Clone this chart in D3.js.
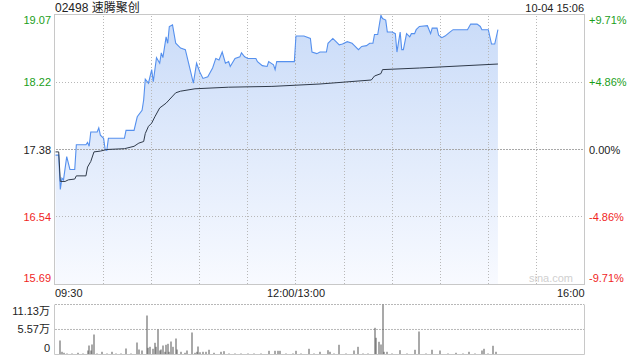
<!DOCTYPE html>
<html>
<head>
<meta charset="utf-8">
<script src="https://cdn.jsdelivr.net/npm/d3@7"></script>
<style>
  html, body { margin: 0; padding: 0; background: #fff; }
  svg { display: block; font-family: "Liberation Sans", Arial, "Noto Sans CJK SC", sans-serif; }
</style>
</head>
<body>
<div id="chart"></div>
<script>
/* intraday minute chart: price + avg line, volume underneath */

const stockName = "02498 速腾聚创";
const stampText = "10-04 15:06";
const preClose = 17.38;
const priceTicks = [19.07, 18.22, 17.38, 16.54, 15.69];
const pctTicks = ["+9.71%", "+4.86%", "0.00%", "-4.86%", "-9.71%"];
const timeLabels = ["09:30", "12:00/13:00", "16:00"];
const volTicks = [11.13, 5.57, 0];          // 万

const priceTimes = ["09:30","09:32","09:33","09:34","09:35","09:37","09:39","09:42","09:43","09:49","09:50","09:51","09:52","09:56","09:57","09:58","10:00","10:01","10:02","10:03","10:13","10:14","10:19","10:21","10:24","10:25","10:26","10:28","10:30","10:31","10:33","10:35","10:36","10:37","10:39","10:40","10:41","10:43","10:45","10:48","10:51","10:54","10:56","10:58","11:00","11:02","11:05","11:08","11:10","11:12","11:14","11:16","11:18","11:19","11:22","11:25","11:26","11:28","11:30","11:35","11:36","11:39","11:42","11:43","11:46","11:47","11:48","11:59","13:00","13:05","13:09","13:10","13:13","13:15","13:19","13:20","13:23","13:25","13:27","13:29","13:32","13:35","13:36","13:39","13:41","13:44","13:46","13:48","13:49","13:51","13:53","13:54","13:56","13:57","14:00","14:02","14:03","14:05","14:06","14:07","14:09","14:11","14:12","14:14","14:15","14:17","14:22","14:24","14:25","14:28","14:29","14:31","14:33","14:36","14:38","14:47","14:49","14:53","14:55","14:56","15:00","15:02","15:04","15:06"];
const prices = [17.31,17.31,16.88,17.02,17.00,17.29,17.13,17.13,17.44,17.44,17.47,17.42,17.60,17.60,17.65,17.56,17.52,17.38,17.37,17.52,17.52,17.62,17.62,17.79,17.87,18.00,18.26,18.21,18.38,18.23,18.53,18.46,18.59,18.53,18.79,18.71,18.92,18.94,18.71,18.65,18.63,18.38,18.21,18.46,18.35,18.27,18.29,18.40,18.52,18.50,18.60,18.46,18.48,18.42,18.52,18.54,18.59,18.54,18.52,18.52,18.48,18.43,18.42,18.48,18.44,18.38,18.48,18.48,18.80,18.80,18.77,18.60,18.58,18.60,18.60,18.71,18.77,18.73,18.69,18.70,18.73,18.71,18.69,18.63,18.67,18.68,18.71,18.71,18.82,18.82,19.06,19.02,19.00,18.85,18.85,18.83,18.60,18.85,18.63,18.63,18.83,18.79,18.83,18.83,18.88,18.92,18.93,18.83,18.90,18.90,18.81,18.78,18.80,18.85,18.88,18.88,18.95,18.95,18.92,18.88,18.88,18.70,18.70,18.88];

const avgTimes = ["09:30","09:32","09:33","09:36","09:38","09:42","09:43","09:49","09:50","09:52","09:54","09:58","10:02","10:13","10:19","10:22","10:25","10:26","10:28","10:30","10:32","10:35","10:39","10:45","10:48","10:57","11:18","11:45","13:15","13:47","13:49","13:53","13:54","14:17","15:06"];
const avgPrices = [17.35,17.35,16.98,16.98,17.00,17.01,17.05,17.05,17.16,17.23,17.35,17.36,17.38,17.39,17.42,17.46,17.48,17.58,17.67,17.71,17.79,17.90,17.96,18.09,18.11,18.14,18.16,18.17,18.20,18.25,18.30,18.33,18.38,18.40,18.45];

const volTimes = ["09:33","09:34","09:35","09:37","09:40","09:44","09:47","09:50","09:51","09:52","09:53","09:54","09:56","09:59","10:02","10:05","10:08","10:11","10:14","10:17","10:21","10:22","10:24","10:27","10:28","10:29","10:31","10:32","10:33","10:34","10:35","10:36","10:37","10:38","10:39","10:40","10:41","10:42","10:43","10:45","10:46","10:48","10:51","10:52","10:55","10:57","10:58","10:59","11:00","11:02","11:04","11:06","11:09","11:13","11:15","11:18","11:22","11:26","11:30","11:34","11:38","11:43","11:47","11:49","11:50","11:54","11:58","13:00","13:03","13:08","13:11","13:15","13:20","13:21","13:24","13:27","13:31","13:36","13:39","13:42","13:45","13:49","13:50","13:52","13:53","13:54","13:55","13:57","14:00","14:05","14:09","14:14","14:17","14:21","14:25","14:30","14:35","14:40","14:44","14:48","14:52","14:56","14:57","15:00","15:03","15:05"];
const volumes = [3.12,0.60,0.38,0.22,0.22,0.38,0.22,0.89,2.00,0.89,2.23,4.45,0.22,0.60,0.22,0.60,0.22,0.22,1.34,0.22,2.67,1.11,0.89,8.68,1.49,1.71,1.27,2.60,1.71,5.57,0.89,1.11,2.00,0.60,2.16,2.38,0.60,2.89,1.71,3.56,1.11,0.60,0.38,0.89,4.90,0.38,0.60,1.78,0.50,0.60,0.60,1.05,0.38,0.60,0.74,0.22,0.22,0.22,0.22,0.22,0.22,0.82,0.82,0.82,0.82,0.22,0.22,0.82,0.22,1.27,0.22,0.60,0.96,0.60,0.22,2.16,0.22,0.89,1.71,0.22,0.22,5.94,3.72,2.83,2.23,11.13,0.60,0.60,0.22,0.96,0.22,1.05,5.12,0.22,1.05,0.89,0.22,0.38,0.22,0.60,0.22,0.89,1.27,0.22,1.94,0.60];

// minute index in the trading day, lunch break collapsed
function tIdx(t) {
  const [h, m] = t.split(":").map(Number);
  const mins = h * 60 + m;
  return mins <= 720 ? mins - 570 : mins - 780 + 150;
}

const W = 640, H = 360;
const GREEN = "#1a9e1a", RED = "#f0261e", GRID = "#b8b8b8", BORDER = "#c8c8c8";

const svg = d3.select("#chart").append("svg")
  .attr("width", W).attr("height", H)
  .attr("viewBox", `0 0 ${W} ${H}`);

const x = d3.scaleLinear().domain([0, 330]).range([55.5, 584.5]);
const y = d3.scaleLinear().domain([15.69, 19.07]).range([284.5, 14.5]);
const yv = d3.scaleLinear().domain([0, 11.13]).range([354.5, 304.5]);
const snap = v => Math.round(v - 0.5) + 0.5;

// gradient for the price area
const grad = svg.append("defs").append("linearGradient")
  .attr("id", "areaFill").attr("gradientUnits", "userSpaceOnUse")
  .attr("x1", 0).attr("y1", y(19.07)).attr("x2", 0).attr("y2", y(15.69));
grad.append("stop").attr("offset", 0).attr("stop-color", "#c9dbf8");
grad.append("stop").attr("offset", 1).attr("stop-color", "#f8faff");

// ---- price area (under the grid) ----
const pData = priceTimes.map((t, i) => ({ i: tIdx(t), v: prices[i] }));
const aData = avgTimes.map((t, i) => ({ i: tIdx(t), v: avgPrices[i] }));

svg.append("path").datum(pData)
  .attr("d", d3.area().x(d => x(d.i)).y0(y(15.69)).y1(d => y(d.v)))
  .attr("fill", "url(#areaFill)");

// ---- main panel grid ----
const gridG = svg.append("g").attr("shape-rendering", "crispEdges");
const vTicks = d3.range(1, 11).map(i => i * 30);
gridG.selectAll("line.vg").data(vTicks).join("line")
  .attr("x1", d => snap(x(d))).attr("x2", d => snap(x(d)))
  .attr("y1", y(19.07) + 1).attr("y2", y(15.69))
  .attr("stroke", GRID).attr("stroke-dasharray", "1,2");
gridG.selectAll("line.hg").data(priceTicks.slice(1, 4)).join("line")
  .attr("x1", x(0)).attr("x2", x(330))
  .attr("y1", d => snap(y(d))).attr("y2", d => snap(y(d)))
  .attr("stroke", d => d === preClose ? "#a8a8a8" : GRID)
  .attr("stroke-dasharray", d => d === preClose ? "2,1" : "1,2");

svg.append("text").text("sina.com")
  .attr("x", 573).attr("y", 282).attr("text-anchor", "end")
  .attr("font-size", 11).attr("fill", "#d0d0d0");

svg.append("path").datum(pData)
  .attr("d", d3.line().x(d => x(d.i)).y(d => y(d.v)))
  .attr("fill", "none").attr("stroke", "#5590ee").attr("stroke-width", 1.1);

svg.append("path").datum(aData)
  .attr("d", d3.line().x(d => x(d.i)).y(d => y(d.v)))
  .attr("fill", "none").attr("stroke", "#2f3a4a").attr("stroke-width", 1);

svg.append("rect")
  .attr("x", 54.5).attr("y", 14.5).attr("width", 530).attr("height", 270)
  .attr("fill", "none").attr("stroke", BORDER);

// ---- labels ----
svg.append("text").text(stockName)
  .attr("x", 55).attr("y", 11.5).attr("font-size", 12).attr("fill", "#222");
svg.append("text").text(stampText)
  .attr("x", 584).attr("y", 11.5).attr("text-anchor", "end")
  .attr("font-size", 11).attr("fill", "#222");

const labelY = (d, i) => i === 0 ? y(d) + 9 : (i === priceTicks.length - 1 ? y(d) - 3 : y(d) + 4);
const tickColor = d => d > preClose ? GREEN : (d < preClose ? RED : "#222");

svg.selectAll("text.pl").data(priceTicks).join("text")
  .attr("class", "pl").text(d => d.toFixed(2))
  .attr("x", 51).attr("y", labelY).attr("text-anchor", "end")
  .attr("font-size", 11).attr("fill", tickColor);

svg.selectAll("text.pr").data(priceTicks).join("text")
  .attr("class", "pr").text((d, i) => pctTicks[i])
  .attr("x", 589).attr("y", labelY)
  .attr("font-size", 11).attr("fill", tickColor);

const timePos = [0, 150, 330];
const timeAnchor = ["start", "middle", "end"];
svg.selectAll("text.tl").data(timeLabels).join("text")
  .attr("class", "tl").text(d => d)
  .attr("x", (d, i) => i === 0 ? 55 : x(timePos[i]))
  .attr("y", 297).attr("text-anchor", (d, i) => timeAnchor[i])
  .attr("font-size", 11).attr("fill", "#222");

// ---- volume panel ----
svg.selectAll("line.vgv").data([11.13, 5.57]).join("line")
  .attr("x1", 55).attr("x2", 584)
  .attr("y1", d => yv(d)).attr("y2", d => yv(d))
  .attr("stroke", GRID).attr("stroke-dasharray", "2,1");

const vData = volTimes.map((t, i) => ({ i: tIdx(t), v: volumes[i] }));
svg.selectAll("rect.vb").data(vData).join("rect")
  .attr("class", "vb")
  .attr("x", d => Math.round(x(d.i)) - 0.5).attr("width", 1)
  .attr("y", d => yv(d.v)).attr("height", d => yv(0) - yv(d.v))
  .attr("fill", "#555");

svg.append("path")
  .attr("d", `M54.5,${yv(11.13)}V${yv(0)}H584.5V${yv(11.13)}`)
  .attr("fill", "none").attr("stroke", BORDER);

svg.selectAll("text.vl").data(volTicks).join("text")
  .attr("text-anchor", "end").attr("x", 50)
  .attr("y", (d, i) => i === 0 ? yv(d) + 10 : (d === 0 ? yv(d) - 3 : yv(d) + 4))
  .attr("font-size", 11).attr("fill", "#222")
  .text(d => d === 0 ? "0" : d.toFixed(2) + "万");
</script>
</body>
</html>
